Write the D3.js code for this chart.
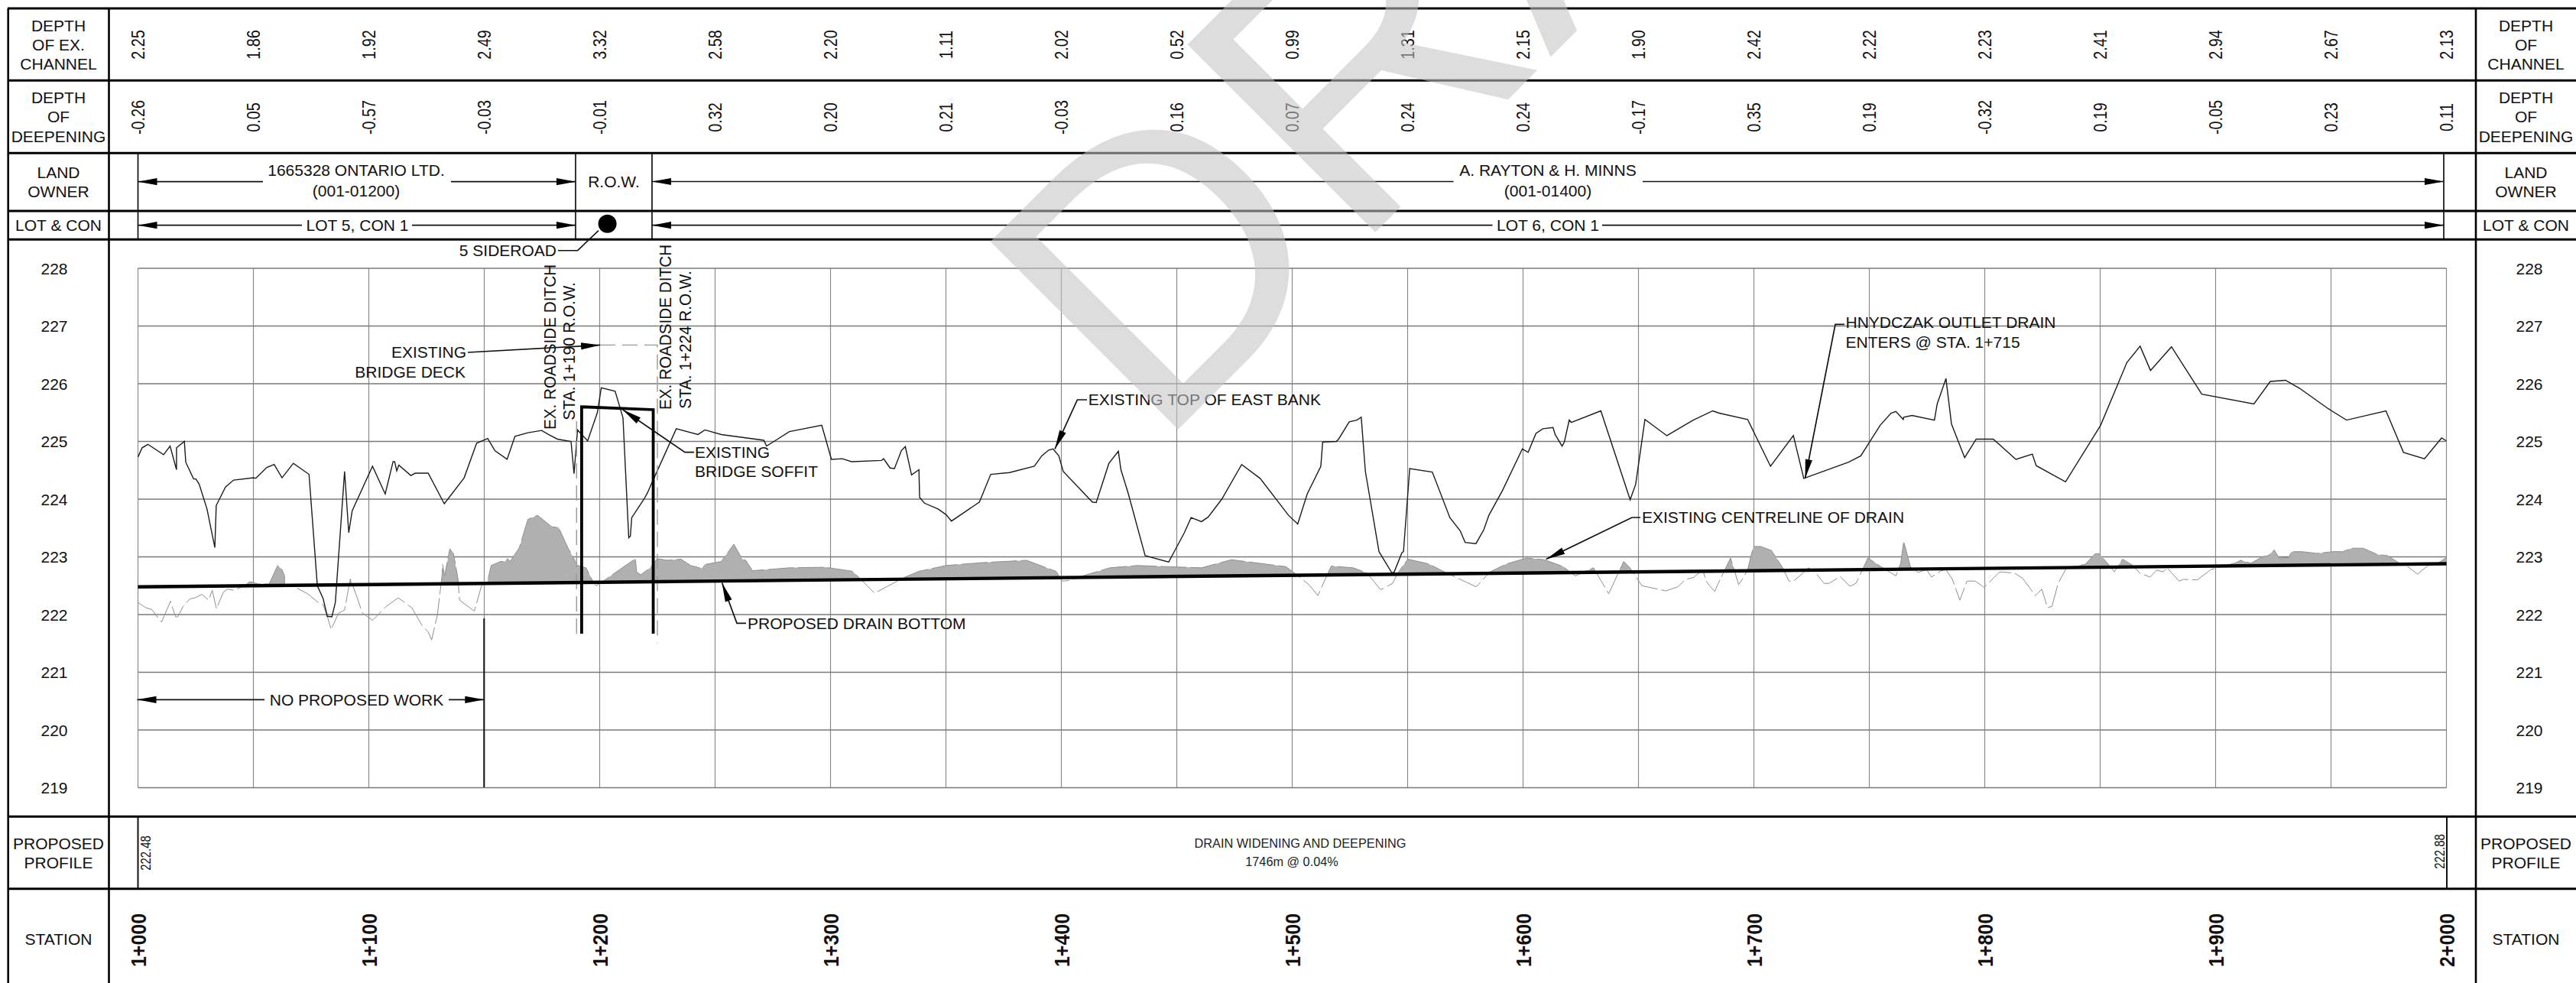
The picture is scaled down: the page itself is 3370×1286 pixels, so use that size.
<!DOCTYPE html>
<html>
<head>
<meta charset="utf-8">
<script src="https://cdn.jsdelivr.net/npm/d3@7/dist/d3.min.js"></script>
<style>html,body{margin:0;padding:0;background:#fff;overflow:hidden}svg{display:block}</style>
</head>
<body>
<script>
// ---------- DATA ----------
const depthStations = d3.range(1000, 2001, 50);
const depthOfChannel = ["2.25","1.86","1.92","2.49","3.32","2.58","2.20","1.11","2.02","0.52","0.99","1.31","2.15","1.90","2.42","2.22","2.23","2.41","2.94","2.67","2.13"];
const depthOfDeepening = ["-0.26","0.05","-0.57","-0.03","-0.01","0.32","0.20","0.21","-0.03","0.16","0.07","0.24","0.24","-0.17","0.35","0.19","-0.32","0.19","-0.05","0.23","0.11"];
const elevationTicks = [228,227,226,225,224,223,222,221,220,219];
const stationTicks = [1000,1100,1200,1300,1400,1500,1600,1700,1800,1900,2000];
const stationLabels = ["1+000","1+100","1+200","1+300","1+400","1+500","1+600","1+700","1+800","1+900","2+000"];
const proposedStations = [1000, 2000];
const proposedElevations = [222.48, 222.88];
const bankStations = [1000.0,1001.8,1004.3,1011.1,1013.9,1016.7,1016.7,1020.1,1020.7,1024.1,1025.1,1026.5,1029.9,1033.3,1033.9,1037.9,1041.4,1050.1,1051.0,1055.8,1059.0,1062.4,1067.3,1074.1,1077.7,1080.2,1082.0,1084.0,1085.5,1089.5,1091.3,1092.8,1101.6,1107.1,1110.5,1111.2,1112.1,1113.0,1118.2,1120.1,1125.7,1132.7,1141.3,1146.7,1151.5,1154.6,1159.9,1163.3,1168.9,1174.9,1177.8,1181.7,1187.6,1188.9,1190.4,1194.8,1199.0,1200.7,1206.7,1210.1,1212.6,1213.3,1213.9,1219.2,1220.6,1222.8,1233.2,1242.6,1245.6,1252.7,1271.1,1272.3,1282.2,1296.2,1300.4,1305.1,1309.1,1322.1,1323.0,1325.8,1327.7,1330.7,1332.4,1335.1,1338.3,1338.6,1340.7,1346.6,1350.1,1352.4,1364.5,1369.4,1377.5,1388.3,1391.5,1394.5,1396.4,1398.9,1400.8,1413.4,1415.1,1420.6,1424.7,1425.8,1428.9,1436.3,1446.5,1453.3,1456.2,1460.7,1463.6,1469.5,1478.1,1486.1,1498.4,1502.4,1506.5,1512.4,1513.2,1519.1,1520.1,1524.7,1528.0,1529.9,1531.7,1537.6,1543.2,1544.2,1547.5,1548.2,1550.9,1560.7,1568.3,1572.8,1574.9,1579.6,1583.0,1585.2,1591.1,1599.7,1602.2,1605.6,1608.6,1613.0,1613.9,1616.9,1617.9,1620.0,1620.9,1633.7,1646.4,1648.8,1652.8,1662.3,1673.7,1682.2,1685.0,1697.3,1707.2,1717.1,1721.6,1741.0,1746.3,1754.7,1759.4,1761.5,1764.7,1764.9,1768.5,1778.2,1779.4,1783.2,1785.6,1791.3,1796.3,1803.7,1813.5,1820.6,1822.3,1835.0,1850.2,1861.6,1867.3,1871.8,1880.9,1894.0,1916.6,1923.7,1930.3,1936.4,1948.7,1956.7,1973.8,1981.4,1990.5,1997.9,2000.0];
const bankElevations = [224.73,224.89,224.95,224.77,224.92,224.51,224.89,225.00,224.64,224.35,224.35,224.26,223.83,223.16,223.89,224.21,224.33,224.37,224.36,224.55,224.60,224.37,224.62,224.43,222.50,222.28,221.97,221.96,222.21,224.48,223.42,223.80,224.57,224.09,224.65,224.65,224.49,224.59,224.41,224.45,224.45,223.92,224.37,224.97,225.05,224.84,224.69,225.09,225.15,225.19,225.12,225.04,225.00,224.44,225.20,225.01,225.50,225.93,225.87,225.41,223.33,223.36,223.68,224.00,224.10,224.30,225.22,225.12,225.20,225.12,225.02,224.92,225.17,225.28,224.69,224.70,224.65,224.67,224.70,224.54,224.53,224.84,224.91,224.42,224.51,224.03,223.93,223.83,223.73,223.62,223.95,224.43,224.46,224.57,224.75,224.85,224.87,224.75,224.48,223.95,223.94,224.62,224.83,224.51,224.11,223.02,222.91,223.42,223.68,223.61,223.69,224.00,224.60,224.36,223.72,223.57,224.09,224.57,224.99,225.00,225.04,225.34,225.37,225.42,224.48,223.09,222.72,222.74,223.07,223.09,224.53,224.47,223.68,223.45,223.25,223.23,223.47,223.72,224.15,224.87,224.81,225.14,225.22,225.24,225.12,224.92,224.99,225.37,225.33,225.53,223.99,224.26,225.38,225.10,225.37,225.53,225.49,225.38,224.57,225.10,224.36,224.64,224.75,225.28,225.49,225.52,225.38,225.42,225.45,225.37,225.65,226.09,225.30,224.72,225.04,225.04,224.69,224.78,224.58,224.30,225.28,226.37,226.65,226.23,226.64,225.82,225.65,226.04,226.06,225.92,225.57,225.37,225.53,224.81,224.70,225.06,225.01];
const groundStations = [1000.0,1003.3,1005.9,1010.2,1014.1,1016.3,1017.2,1018.0,1019.5,1022.5,1024.7,1027.7,1030.6,1032.2,1034.0,1037.0,1038.8,1041.7,1046.9,1048.4,1052.1,1056.8,1060.5,1062.4,1063.5,1063.5,1066.9,1073.5,1078.7,1080.2,1082.0,1083.7,1086.8,1089.5,1092.0,1094.7,1097.2,1101.6,1107.5,1112.7,1118.6,1123.1,1125.7,1127.2,1129.7,1131.7,1132.0,1132.8,1135.1,1136.7,1138.6,1139.3,1145.7,1149.0,1151.2,1153.0,1157.1,1159.0,1160.1,1161.2,1165.2,1168.9,1173.1,1179.3,1182.2,1184.5,1186.2,1190.4,1194.1,1197.0,1198.5,1201.5,1215.5,1216.0,1217.8,1221.9,1224.9,1229.0,1235.2,1239.4,1244.1,1246.0,1252.7,1258.1,1261.8,1263.3,1266.2,1282.2,1297.7,1309.5,1313.2,1319.1,1331.7,1338.3,1350.1,1365.7,1384.9,1397.7,1400.4,1403.3,1409.2,1421.0,1432.9,1453.3,1460.7,1473.7,1497.3,1501.3,1507.2,1511.1,1516.9,1526.5,1532.4,1538.3,1543.5,1545.7,1550.1,1559.0,1566.4,1579.7,1585.7,1593.0,1601.6,1609.3,1617.5,1619.7,1622.6,1630.5,1637.1,1643.6,1646.3,1651.5,1661.8,1667.0,1670.4,1673.7,1677.8,1679.6,1683.0,1685.0,1689.9,1693.4,1695.6,1697.3,1699.8,1703.0,1707.6,1712.5,1715.2,1717.1,1719.9,1723.7,1726.8,1730.4,1732.5,1737.4,1741.6,1744.2,1749.4,1755.8,1761.5,1763.6,1764.9,1767.8,1771.2,1774.8,1776.9,1781.1,1783.2,1786.0,1789.2,1792.3,1795.9,1799.7,1806.5,1812.8,1816.4,1821.9,1824.7,1827.2,1829.1,1831.8,1835.4,1843.5,1847.7,1849.4,1854.0,1856.1,1859.7,1864.2,1867.1,1871.6,1874.5,1877.3,1879.0,1884.2,1886.1,1892.1,1898.0,1909.0,1910.7,1915.3,1920.2,1922.7,1925.4,1927.5,1931.8,1932.8,1937.5,1943.8,1950.8,1955.0,1959.0,1963.9,1970.2,1974.5,1979.7,1982.9,1987.5,1991.4,1995.6,2000.0];
const groundElevations = [222.21,222.12,222.09,221.87,222.23,221.96,221.96,222.02,222.14,222.27,222.29,222.35,222.25,222.42,222.10,222.39,222.44,222.42,222.52,222.57,222.53,222.53,222.85,222.78,222.67,222.52,222.50,222.36,222.19,222.17,221.97,221.74,222.02,222.08,222.62,222.32,222.03,221.90,222.14,222.29,222.12,221.81,221.70,221.56,221.99,222.67,222.87,222.67,223.14,223.05,222.63,222.25,222.06,222.52,222.54,222.85,222.92,222.92,222.97,222.92,223.16,223.65,223.72,223.52,223.51,223.31,223.16,222.85,222.81,222.58,222.50,222.58,222.97,222.74,222.69,222.81,222.97,222.94,222.96,222.85,222.80,222.87,222.92,223.22,222.96,222.94,222.76,222.81,222.82,222.75,222.61,222.37,222.64,222.75,222.85,222.90,222.94,222.75,222.58,222.59,222.67,222.81,222.85,222.82,222.81,222.95,222.83,222.71,222.52,222.33,222.84,222.81,222.72,222.43,222.54,222.72,222.96,222.88,222.73,222.48,222.74,222.88,222.98,222.95,222.83,222.76,222.67,222.81,222.36,222.92,222.81,222.50,222.41,222.48,222.61,222.64,222.77,222.56,222.40,222.58,222.98,222.52,222.65,222.78,223.18,223.18,223.11,222.81,222.58,222.58,222.67,222.81,222.72,222.54,222.54,222.66,222.49,222.54,222.98,222.81,222.67,222.89,223.27,222.83,222.73,222.78,222.65,222.76,222.78,222.61,222.25,222.58,222.58,222.47,222.74,222.72,222.63,222.33,222.44,222.12,222.14,222.54,222.81,222.87,223.05,223.06,222.85,222.74,222.96,222.85,222.72,222.65,222.77,222.74,222.81,222.58,222.61,222.60,222.78,222.90,222.94,222.89,223.00,223.02,223.12,222.98,222.99,223.09,223.09,223.06,223.09,223.09,223.15,223.15,223.04,223.02,222.89,222.84,222.70,222.83,222.87,222.99];
const soffitStations = [1192.2, 1192.2, 1223.2, 1223.2];
const soffitElevations = [221.67, 225.60, 225.55, 221.67];
const deckStations = [1190.0, 1190.0, 1225.0, 1225.0];
const deckElevations = [221.67, 225.35, 226.67, 221.51];

// ---------- SCALES ----------
const W = 3370, H = 1286;
const x = d3.scaleLinear().domain([1000, 2000]).range([180.5, 3200.5]);
const y = d3.scaleLinear().domain([219, 228]).range([1030.5, 351]);
const grade = d3.scaleLinear().domain(proposedStations).range(proposedElevations);

const svg = d3.select("body").append("svg").attr("width", W).attr("height", H).attr("viewBox", `0 0 ${W} ${H}`);
const FONT = "'Liberation Sans', Arial, sans-serif";
svg.append("rect").attr("width", W).attr("height", H).attr("fill", "#fff");

function txt(px, py, s, o = {}) {
  const t = svg.append("text").text(s)
    .attr("font-family", FONT).attr("font-size", o.size || 21)
    .attr("font-weight", o.weight || 400).attr("fill", o.fill || "#111")
    .attr("text-anchor", o.anchor || "middle");
  if (o.rot) t.attr("transform", `translate(${px},${py}) rotate(-90) scale(${o.sx || 1},1)`);
  else t.attr("x", px).attr("y", py);
  return t;
}
function seg(x1, y1, x2, y2, stroke, w) {
  svg.append("line").attr("x1", x1).attr("y1", y1).attr("x2", x2).attr("y2", y2)
    .attr("stroke", stroke).attr("stroke-width", w);
}
function poly(points, stroke = "#111", w = 1.6) {
  svg.append("path").attr("d", d3.line()(points)).attr("fill", "none")
    .attr("stroke", stroke).attr("stroke-width", w).attr("stroke-linejoin", "miter");
}
function head(tx, ty, fx, fy, len = 25, hw = 4.6) {
  const a = Math.atan2(ty - fy, tx - fx), c = Math.cos(a), s = Math.sin(a);
  const bx = tx - c * len, by = ty - s * len;
  svg.append("path").attr("d", d3.line()([[tx, ty], [bx - s * hw, by + c * hw], [bx + s * hw, by - c * hw]]) + "Z").attr("fill", "#000");
}
function leader(points, w = 1.7) {
  poly(points, "#111", w);
  const n = points.length;
  head(points[n - 1][0], points[n - 1][1], points[n - 2][0], points[n - 2][1]);
}
function dim(x1, x2, py, gapL, gapR) {
  seg(x1, py, gapL, py, "#111", 1.7);
  seg(gapR, py, x2, py, "#111", 1.7);
  head(x1, py, x1 + 30, py);
  head(x2, py, x2 - 30, py);
}

// ---------- GRID ----------
d3.range(1000, 2001, 50).forEach(s => seg(x(s), y(228), x(s), y(219), "#8a8a8a", 1.2));
elevationTicks.forEach(e => seg(x(1000), y(e), x(2000), y(e), "#7a7a7a", 1.4));

// ---------- PROFILE ----------
const ground = groundStations.map((s, i) => [s, groundElevations[i]]);
const bank = bankStations.map((s, i) => [s, bankElevations[i]]);
const above = [[1000, 229], [2000, 229], [2000, grade(2000)], [1000, grade(1000)]];
svg.append("clipPath").attr("id", "aboveGrade").append("path")
  .attr("d", d3.line().x(d => x(d[0])).y(d => y(d[1]))(above) + "Z");
svg.append("path").attr("clip-path", "url(#aboveGrade)").attr("fill", "#b0b0b0")
  .attr("d", d3.area().x(d => x(d[0])).y0(d => y(grade(d[0]))).y1(d => y(d[1]))(ground));
svg.append("path").attr("fill", "none").attr("stroke", "#8f8f8f").attr("stroke-width", 1)
  .attr("stroke-dasharray", "34,5")
  .attr("d", d3.line().x(d => x(d[0])).y(d => y(d[1]))(ground));
svg.append("path").attr("fill", "none").attr("stroke", "#1c1c1c").attr("stroke-width", 1.4)
  .attr("d", d3.line().x(d => x(d[0])).y(d => y(d[1]))(bank));

// bridge deck & soffit
const deck = deckStations.map((s, i) => [x(s), y(deckElevations[i])]);
svg.append("path").attr("fill", "none").attr("stroke", "#9a9a9a").attr("stroke-width", 1.4)
  .attr("stroke-dasharray", "20,9").attr("d", d3.line()([deck[0], deck[1]]));
svg.append("path").attr("fill", "none").attr("stroke", "#9a9a9a").attr("stroke-width", 1.4)
  .attr("stroke-dasharray", "20,9").attr("d", d3.line()([[x(1200.2), y(226.67)], deck[2], deck[3]]));
svg.append("path").attr("fill", "none").attr("stroke", "#000").attr("stroke-width", 3.8)
  .attr("stroke-linejoin", "miter")
  .attr("d", d3.line().x(d => x(d[0])).y(d => y(d[1]))(soffitStations.map((s, i) => [s, soffitElevations[i]])));

// proposed drain bottom
svg.append("path").attr("fill", "none").attr("stroke", "#000").attr("stroke-width", 4.4)
  .attr("d", d3.line().x(d => x(d)).y(d => y(grade(d)))(proposedStations));

// ---------- TABLE ----------
[11, 105.3, 200.3, 276, 313.3, 1068.3, 1162.7].forEach(py => seg(10, py, W, py, "#000", 3));
[10.7, 142.5, 3239].forEach(px => seg(px, 11, px, H, "#000", 2.6));
[x(1000), 753, 853, 3197].forEach(px => seg(px, 200, px, 313.3, "#111", 1.7));
[x(1000), 3201].forEach(px => seg(px, 1068, px, 1163, "#111", 2));

// row headings, both sides
[[76.5, 71], [3304.5, 3309]].forEach(([cx, tx], side) => {
  const m = { size: 21 };
  txt(cx, 41, "DEPTH", m);
  txt(cx, 66, side ? "OF" : "OF EX.", m);
  txt(cx, 91, "CHANNEL", m);
  txt(cx, 134.5, "DEPTH", m);
  txt(cx, 160, "OF", m);
  txt(cx, 185.5, "DEEPENING", m);
  txt(cx, 233, "LAND", m);
  txt(cx, 258, "OWNER", m);
  txt(cx, 302, "LOT & CON", m);
  txt(cx, 1110.7, "PROPOSED", m);
  txt(cx, 1135.5, "PROFILE", m);
  txt(cx, 1235.7, "STATION", m);
  elevationTicks.forEach(e => txt(tx, y(e) + 7.5, e, m));
});

// rotated depth values
depthStations.forEach((s, i) => {
  txt(x(s) + 8.8, 58.5, depthOfChannel[i], { size: 24.5, rot: true, sx: 0.81 });
  txt(x(s) + 8.8, 153.5, depthOfDeepening[i], { size: 24.5, rot: true, sx: 0.81 });
});
stationTicks.forEach((s, i) => txt(x(s) + 10.3, 1230, stationLabels[i], { size: 28.5, weight: 700, rot: true, sx: 0.875 }));

// land owners and lots
dim(x(1000), 753, 237.7, 344, 590);
txt(466, 230, "1665328 ONTARIO LTD.");
txt(466, 256.7, "(001-01200)");
txt(803, 245, "R.O.W.");
dim(853, 3197, 237.5, 1901.5, 2149);
txt(2025, 229.6, "A. RAYTON & H. MINNS");
txt(2025, 257, "(001-01400)");
dim(x(1000), 753, 294.7, 395, 539);
txt(467.5, 301.7, "LOT 5, CON 1");
dim(853, 3197, 294.7, 1952.5, 2096);
txt(2025, 301.7, "LOT 6, CON 1");
svg.append("circle").attr("cx", 794.6).attr("cy", 292.7).attr("r", 12).attr("fill", "#000");
poly([[783, 301.7], [755.7, 327.7], [730, 327.7]]);
txt(728, 334.5, "5 SIDEROAD", { anchor: "end" });

// proposed profile row
txt(196.7, 1116, proposedElevations[0].toFixed(2), { size: 17.5, rot: true, sx: 0.85 });
txt(3198, 1114, proposedElevations[1].toFixed(2), { size: 17.5, rot: true, sx: 0.85 });
txt(1701, 1109.3, "DRAIN WIDENING AND DEEPENING", { size: 16.3, fill: "#222" });
txt(1690, 1133.3, "1746m @ 0.04%", { size: 16.3, fill: "#222" });

// ---------- ANNOTATIONS ----------
txt(610, 468, "EXISTING", { anchor: "end" });
txt(609, 493.7, "BRIDGE DECK", { anchor: "end" });
leader([[612, 461], [x(1200.2), y(226.67)]]);

txt(727.3, 454, "EX. ROADSIDE DITCH", { size: 22.5, rot: true, sx: 0.92 });
txt(752.3, 459.5, "STA. 1+190 R.O.W.", { size: 22.5, rot: true, sx: 0.92 });
txt(878.3, 428, "EX. ROADSIDE DITCH", { size: 22.5, rot: true, sx: 0.92 });
txt(904, 444.5, "STA. 1+224 R.O.W.", { size: 22.5, rot: true, sx: 0.92 });

txt(909, 599, "EXISTING", { anchor: "start" });
txt(909, 624.3, "BRIDGE SOFFIT", { anchor: "start" });
leader([[908, 591.7], [896, 591.7], [x(1210), y(225.55)]]);

txt(1423.7, 530, "EXISTING TOP OF EAST BANK", { anchor: "start" });
leader([[1422, 523], [1409.4, 523], [x(1397.2), y(224.87)]]);

txt(978, 822.7, "PROPOSED DRAIN BOTTOM", { anchor: "start" });
leader([[976, 815.3], [964, 815.3], [x(1253), y(222.55)]]);

txt(2148, 684.3, "EXISTING CENTRELINE OF DRAIN", { anchor: "start" });
leader([[2146, 677], [2135, 677], [x(1610), y(222.96)]]);

txt(2414.5, 429.3, "HNYDCZAK OUTLET DRAIN", { anchor: "start" });
txt(2414.5, 455, "ENTERS @ STA. 1+715", { anchor: "start" });
leader([[2413, 424.3], [2401, 424.3], [x(1722.2), y(224.36)]]);

dim(x(1000) - 1, 633.3, 915.3, 346, 587);
txt(466.5, 923, "NO PROPOSED WORK");
seg(633.3, 809, 633.3, 1030, "#111", 2);

// ---------- WATERMARK ----------
svg.append("text").text("DRAFT")
  .attr("transform", "translate(1512,591) rotate(-45)")
  .attr("font-family", FONT).attr("font-size", 505)
  .attr("fill", "#c4c4c4").attr("opacity", 0.56);
</script>
</body>
</html>
